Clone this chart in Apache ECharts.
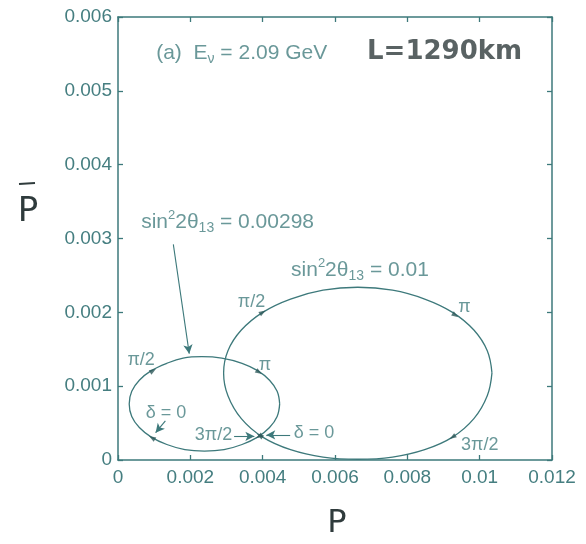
<!DOCTYPE html>
<html>
<head>
<meta charset="utf-8">
<script src="https://cdn.jsdelivr.net/npm/echarts@6/dist/echarts.min.js"></script>
<style>
  html, body { margin: 0; padding: 0; background: #ffffff; }
  #chart { width: 586px; height: 544px; }
</style>
</head>
<body>
<div id="chart"></div>
<script>
// Axis ranges and tick spacing
const xRange = [0, 0.012];
const xStep = 0.002;
const yRange = [0, 0.006];
const yStep = 0.001;

// Bi-probability ellipse, sin^2 2θ13 = 0.00298, traced in the direction of increasing δ
const smallEllipse = [
  [0.00447, 0.00076], [0.00440, 0.00059], [0.00419, 0.00044], [0.00386, 0.00031],
  [0.00343, 0.00021], [0.00293, 0.00014], [0.00239, 0.00012], [0.00185, 0.00014],
  [0.00135, 0.00021], [0.00092, 0.00031], [0.00059, 0.00044], [0.00038, 0.00059],
  [0.00031, 0.00076], [0.00038, 0.00093], [0.00059, 0.00108], [0.00092, 0.00121],
  [0.00135, 0.00131], [0.00180, 0.00138], [0.00232, 0.00140], [0.00287, 0.00138],
  [0.00343, 0.00131], [0.00386, 0.00121], [0.00419, 0.00108], [0.00440, 0.00093],
  [0.00447, 0.00076]
];

// Bi-probability ellipse, sin^2 2θ13 = 0.01
const largeEllipse = [
  [0.01034, 0.00118], [0.01021, 0.00087], [0.00984, 0.00056], [0.00925, 0.00031],
  [0.00848, 0.00014], [0.00759, 0.00004], [0.00663, 0.00001], [0.00567, 0.00004],
  [0.00477, 0.00014], [0.00400, 0.00031], [0.00341, 0.00056], [0.00304, 0.00087],
  [0.00292, 0.00118], [0.00304, 0.00148], [0.00341, 0.00176], [0.00400, 0.00200],
  [0.00477, 0.00218], [0.00567, 0.00230], [0.00663, 0.00234], [0.00759, 0.00230],
  [0.00848, 0.00218], [0.00925, 0.00200], [0.00984, 0.00176], [0.01021, 0.00148],
  [0.01034, 0.00118]
];

// CP phase values marked along each ellipse
const phaseNames = ['δ = 0', 'π/2', 'π', '3π/2'];
const smallPhasePts = [[0.00094, 0.00030], [0.00097, 0.00121], [0.00390, 0.00119], [0.00390, 0.00032]];
const largePhasePts = [[0.00392, 0.00033], [0.00400, 0.00200], [0.00933, 0.00196], [0.00925, 0.00031]];

// Mixing-angle values of the two curves
const thetaValues = ['0.00298', '0.01'];

const INK = '#3d797b';
const TEXT = '#457e80';
const HAND = '#2f3b3c';
const FONT = '"Liberation Sans", Arial, sans-serif';

// Where phase labels sit relative to their marks (data units)
const smallLabelAt = [[0.00133, 0.00064], [0.00064, 0.00135], [0.00406, 0.00129], [0.00264, 0.00034]];
const largeLabelAt = [[0.00542, 0.00037], [0.00369, 0.00214], [0.00958, 0.00207], [0.01000, 0.00020]];

const tickFmt = v => String(+v.toFixed(3));

const axisCommon = {
  type: 'value',
  splitLine: { show: false },
  axisLine: { show: true, onZero: false, lineStyle: { color: INK, width: 1.5 } },
  axisTick: { show: true, inside: true, length: 5, lineStyle: { color: INK, width: 1.3 } }
};

const richText = {
  t: { fontSize: 21, fontFamily: FONT, color: TEXT, lineHeight: 30, verticalAlign: 'middle' },
  p: { fontSize: 18, fontFamily: FONT, color: TEXT, lineHeight: 24, verticalAlign: 'middle' },
  sup: { fontSize: 13, fontFamily: FONT, color: TEXT, lineHeight: 30, verticalAlign: 'top', padding: [2, 0, 0, 0] },
  sub: { fontSize: 14, fontFamily: FONT, color: TEXT, lineHeight: 30, verticalAlign: 'bottom', padding: [0, 0, 2, 0] }
};

function textPoint(value, formatter, extra) {
  return {
    value: value,
    label: Object.assign({ show: true, position: 'inside', formatter: formatter, rich: richText }, extra || {})
  };
}

const el = document.getElementById('chart');
const chart = echarts.init(el, null, { renderer: 'canvas' });

const option = {
  animation: false,
  backgroundColor: '#ffffff',
  grid: { left: 118, right: 34, top: 17, bottom: 84 },
  xAxis: [
    Object.assign({}, axisCommon, {
      min: xRange[0], max: xRange[1], interval: xStep, position: 'bottom',
      axisLabel: { color: TEXT, fontSize: 19, fontFamily: FONT, margin: 8, formatter: tickFmt }
    }),
    Object.assign({}, axisCommon, {
      min: xRange[0], max: xRange[1], interval: xStep, position: 'top',
      axisLabel: { show: false }
    })
  ],
  yAxis: [
    Object.assign({}, axisCommon, {
      min: yRange[0], max: yRange[1], interval: yStep, position: 'left',
      axisLabel: { color: TEXT, fontSize: 19, fontFamily: FONT, margin: 6, formatter: tickFmt }
    }),
    Object.assign({}, axisCommon, {
      min: yRange[0], max: yRange[1], interval: yStep, position: 'right',
      axisLabel: { show: false }
    })
  ],
  series: [
    {
      id: 'small', type: 'line', data: smallEllipse, showSymbol: false, smooth: 0.4,
      lineStyle: { color: INK, width: 1.3 }, silent: true,
      markLine: {
        silent: true, symbol: ['none', 'arrow'], symbolSize: [7, 9],
        label: { show: false },
        lineStyle: { color: INK, width: 1.1, type: 'solid' },
        data: [
          [{ coord: [0.00153, 0.00292] }, { coord: [0.00197, 0.00144] }],
          [{ coord: [0.00131, 0.00053] }, { coord: [0.00104, 0.00037] }],
          [{ coord: [0.00321, 0.00032] }, { coord: [0.00377, 0.00032] }],
          [{ coord: [0.00476, 0.00034] }, { coord: [0.00410, 0.00034] }]
        ]
      }
    },
    {
      id: 'large', type: 'line', data: largeEllipse, showSymbol: false, smooth: 0.4,
      lineStyle: { color: INK, width: 1.3 }, silent: true
    },
    {
      id: 'text', type: 'scatter', symbolSize: 1, itemStyle: { color: 'rgba(0,0,0,0)' }, silent: true,
      data: [].concat(
        smallPhasePts.map((p, i) => textPoint(smallLabelAt[i], '{p|' + phaseNames[i] + '}')),
        largePhasePts.map((p, i) => textPoint(largeLabelAt[i], '{p|' + phaseNames[i] + '}')),
        [
          textPoint([0.00303, 0.00322], '{t|sin}{sup|2}{t|2θ}{sub|13}{t| = ' + thetaValues[0] + '}'),
          textPoint([0.00669, 0.00257], '{t|sin}{sup|2}{t|2θ}{sub|13}{t| = ' + thetaValues[1] + '}'),
          textPoint([0.00342, 0.00551], '{t|(a)  E}{sub|ν}{t| = 2.09 GeV}'),
          textPoint([0.00903, 0.00552], 'L=1290km', {
            fontSize: 26, fontWeight: 'bold', color: HAND, fontFamily: '"DejaVu Sans", sans-serif'
          })
        ]
      )
    }
  ],
  graphic: [
    // vertical axis title: P with an overbar
    { type: 'line', shape: { x1: 19, y1: 184, x2: 35, y2: 183 }, style: { stroke: HAND, lineWidth: 2 } },
    { type: 'text', x: 28, y: 212, style: { text: 'P', font: '34px "DejaVu Sans", sans-serif', fill: HAND, textAlign: 'center', textVerticalAlign: 'middle' } },
    // horizontal axis title
    { type: 'text', x: 337, y: 524, style: { text: 'P', font: '32px "DejaVu Sans", sans-serif', fill: HAND, textAlign: 'center', textVerticalAlign: 'middle' } }
  ]
};

chart.setOption(option);

// Orient each phase arrowhead along its curve, in pixel space
function headingAt(curve, pt) {
  const pts = curve.slice(0, curve.length - 1).map(c => chart.convertToPixel({ gridIndex: 0 }, c));
  const p = chart.convertToPixel({ gridIndex: 0 }, pt);
  let best = 0, bestD = Infinity;
  pts.forEach((q, i) => {
    const d = (q[0] - p[0]) ** 2 + (q[1] - p[1]) ** 2;
    if (d < bestD) { bestD = d; best = i; }
  });
  const m = pts.length;
  const prev = pts[(best - 1 + m) % m];
  const next = pts[(best + 1) % m];
  const ang = Math.atan2(-(next[1] - prev[1]), next[0] - prev[0]) * 180 / Math.PI;
  return ang - 90;
}

const heads = [].concat(
  smallPhasePts.map(p => ({ value: p, symbolRotate: headingAt(smallEllipse, p) })),
  largePhasePts.map(p => ({ value: p, symbolRotate: headingAt(largeEllipse, p) }))
);

chart.setOption({
  series: [
    {
      id: 'heads', type: 'scatter', symbol: 'triangle', symbolSize: [5, 7],
      itemStyle: { color: '#2f5a5b' }, silent: true, z: 5, data: heads
    }
  ]
});
</script>
</body>
</html>
